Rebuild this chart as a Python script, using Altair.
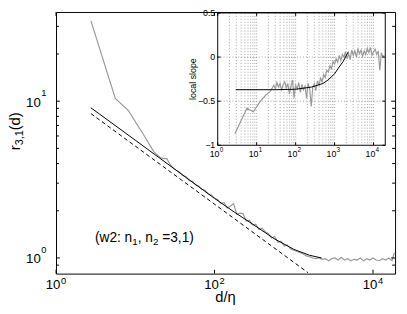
import altair as alt
import pandas as pd

F = "Liberation Sans"

# ---------------- data ----------------
d_vals = [2.76, 5.6, 8.2, 12.5, 17.2,
          20.9, 22.9, 25.1, 27.5, 30.2, 33.1, 36.3, 39.8, 43.7, 47.9, 52.5, 57.5, 63.1, 69.2, 75.9, 83.2, 91.2, 100,
          110, 120, 132, 145, 158, 174, 191, 209, 229, 251, 275, 302, 331, 363, 398, 437, 479, 525, 575, 631, 692,
          759, 832, 912, 1000,
          1096, 1202, 1318, 1445, 1585, 1738, 1905, 2089, 2291, 2512, 2754, 3020, 3311, 3631, 3981, 4365, 4786,
          5248, 5754, 6310, 6918, 7586, 8318, 9120, 10000,
          10965, 12023, 13183, 14454, 15849, 17378, 18600]
r_vals = [32.5, 10.4, 8.7, 6.2, 4.75,
          4.35, 4.30, 4.30, 3.95, 3.74, 3.62, 3.52, 3.36, 3.30, 3.12, 3.08, 2.93, 2.88, 2.74, 2.70, 2.56, 2.52, 2.40,
          2.36, 2.22, 2.26, 2.08, 2.14, 2.22, 1.90, 1.93, 1.92, 1.72, 1.74, 1.62, 1.64, 1.52, 1.55, 1.47, 1.43, 1.34,
          1.37, 1.26, 1.28, 1.19, 1.21, 1.14, 1.12,
          1.10, 1.08, 1.06, 1.03, 1.02, 1.00, 0.99, 1.00, 0.98, 0.99, 0.96, 0.99, 1.00, 0.97, 1.01, 0.97, 0.99, 0.96,
          0.98, 0.97, 1.00, 0.96, 0.99, 0.97, 1.00,
          0.97, 0.96, 0.99, 0.97, 1.00, 0.96, 1.08]
slope_vals = [-0.87, -0.58, -0.62, -0.50, -0.43,
              -0.40, -0.38, -0.35, -0.32, -0.36, -0.29, -0.34, -0.30, -0.37, -0.31, -0.28, -0.35, -0.30, -0.42, -0.33,
              -0.26, -0.46, -0.32,
              -0.36, -0.29, -0.40, -0.31, -0.37, -0.33, -0.47, -0.30, -0.36, -0.56, -0.34, -0.30, -0.38, -0.27, -0.32,
              -0.24, -0.28, -0.20, -0.23, -0.15, -0.17, -0.10, -0.13, -0.05, -0.08,
              -0.02, -0.06, 0.02, -0.04, 0.03, 0.00, 0.06, -0.02, 0.04, -0.03, 0.08, 0.02, 0.07, 0.00, 0.09, 0.04,
              0.08, 0.01, 0.07, 0.03, 0.10, 0.05, 0.11, 0.02, 0.06,
              0.09, 0.03, 0.07, -0.15, 0.05, 0.00, 0.02]

fit_d = [2.75, 10, 31.6, 100, 178, 316, 562, 1000, 1585, 2240]
fit_r = [9.08, 5.64, 3.68, 2.40, 1.96, 1.62, 1.33, 1.135, 1.04, 1.00]

pow_d = [2.76, 1510]
pow_r = [8.33, 0.806]

lsfit_d = [2.9, 30, 100, 257, 500, 680, 1000, 1230, 1660, 2240]
lsfit_s = [-0.37, -0.37, -0.365, -0.34, -0.30, -0.26, -0.19, -0.13, -0.05, 0.06]

x_major = [1, 100, 10000]
x_major_exp = ["0", "2", "4"]
y_major = [1, 10]
y_major_exp = ["0", "1"]
y_minor = [0.9, 2, 3, 4, 5, 6, 7, 8, 9, 20, 30]

in_x_major = [1, 10, 100, 1000, 10000]
in_x_exp = ["0", "1", "2", "3", "4"]
in_y_major = [-1, -0.5, 0, 0.5]
in_y_text = ["\u22121", "\u22120.5", "0", "0.5"]
in_grid_x = [2, 3, 4, 5, 6, 7, 8, 9, 10, 20, 30, 40, 50, 60, 70, 80, 90, 100, 200, 300, 400, 500, 600, 700,
             800, 900, 1000, 2000, 3000, 4000, 5000, 6000, 7000, 8000, 9000, 10000]
in_grid_y = [-0.5, 0]

# ---------------- layout ----------------
W, H = 346, 267
IX0, IX1, IY0, IY1 = 165, 336, 1, 136   # inset box in plot pixels

mx = alt.Scale(type="log", domain=[1, 19000], range=[0, W], nice=False)
my = alt.Scale(type="log", domain=[0.7943, 37.06], range=[H, 0], nice=False)
ix = alt.Scale(type="log", domain=[1, 20000], range=[IX0, IX1], nice=False)
iy = alt.Scale(type="linear", domain=[-1, 0.5], range=[IY1, IY0], nice=False, zero=False)

main_df = pd.DataFrame({"d": d_vals, "r": r_vals, "s": slope_vals})
fit_df = pd.DataFrame({"d": fit_d, "r": fit_r})
pow_df = pd.DataFrame({"d": pow_d, "r": pow_r})
lsfit_df = pd.DataFrame({"d": lsfit_d, "s": lsfit_s})


def MX(f="d"):
    return alt.X(f"{f}:Q", scale=mx, axis=None)


def MY(f="r"):
    return alt.Y(f"{f}:Q", scale=my, axis=None)


def IXe(f="d"):
    return alt.X(f"{f}:Q", scale=ix, axis=None)


def IYe(f="s"):
    return alt.Y(f"{f}:Q", scale=iy, axis=None)


def label(text, x, y, size, **kw):
    return alt.Chart(pd.DataFrame({"t": [text]})).mark_text(
        x=x, y=y, fontSize=size, font=F, color="black", **kw).encode(text="t:N")


xmaj = pd.DataFrame({"v": x_major, "e": x_major_exp})
ymaj = pd.DataFrame({"v": y_major, "e": y_major_exp})
ymin = pd.DataFrame({"v": y_minor})

main_layers = [
    alt.Chart(main_df).mark_line(color="#9a9a9a", strokeWidth=1.2).encode(x=MX(), y=MY()),
    alt.Chart(fit_df).mark_line(color="black", strokeWidth=1).encode(x=MX(), y=MY()),
    alt.Chart(pow_df).mark_line(color="black", strokeWidth=1, strokeDash=[4, 3]).encode(x=MX(), y=MY()),
    # ticks (inside, on all four sides)
    alt.Chart(ymin).mark_rule(color="black").encode(y=MY("v"), x=alt.value(0), x2=alt.value(3)),
    alt.Chart(ymin).mark_rule(color="black").encode(y=MY("v"), x=alt.value(W), x2=alt.value(W - 3)),
    alt.Chart(ymaj).mark_rule(color="black").encode(y=MY("v"), x=alt.value(0), x2=alt.value(4)),
    alt.Chart(ymaj).mark_rule(color="black").encode(y=MY("v"), x=alt.value(W), x2=alt.value(W - 4)),
    alt.Chart(xmaj).mark_rule(color="black").encode(x=MX("v"), y=alt.value(H), y2=alt.value(H - 4)),
    alt.Chart(xmaj).mark_rule(color="black").encode(x=MX("v"), y=alt.value(0), y2=alt.value(4)),
    # tick labels 10^k
    alt.Chart(xmaj).mark_text(text="10", align="right", baseline="alphabetic", fontSize=13.5, font=F, dx=4.5)
    .encode(x=MX("v"), y=alt.value(283)),
    alt.Chart(xmaj).mark_text(align="left", baseline="alphabetic", fontSize=9.5, font=F, dx=5)
    .encode(x=MX("v"), y=alt.value(277.5), text="e:N"),
    alt.Chart(ymaj).mark_text(text="10", align="right", baseline="alphabetic", fontSize=13.5, font=F, dy=5.5)
    .encode(y=MY("v"), x=alt.value(-15.5)),
    alt.Chart(ymaj).mark_text(align="left", baseline="alphabetic", fontSize=9.5, font=F, dy=-5)
    .encode(y=MY("v"), x=alt.value(-15), text="e:N"),
    # axis titles
    label("d/\u03b7", W / 2, 296, 15, align="center", baseline="alphabetic"),
    label("r", -37, 141, 15, angle=270, align="left", baseline="alphabetic"),
    label("3,1", -34, 136, 11, angle=270, align="left", baseline="alphabetic"),
    label("(d)", -37, 120.7, 15, angle=270, align="left", baseline="alphabetic"),
    # annotation
    label("(w2: n", 39.7, 234.3, 14, align="left", baseline="alphabetic"),
    label("1", 77.8, 237.5, 10, align="left", baseline="alphabetic"),
    label(", n", 83.4, 234.3, 14, align="left", baseline="alphabetic"),
    label("2", 98.9, 237.5, 10, align="left", baseline="alphabetic"),
    label("=3,1)", 108.4, 234.3, 14, align="left", baseline="alphabetic"),
]
main = alt.layer(*main_layers)

box_df = pd.DataFrame({"x0": [1], "x1": [20000], "y0": [-1], "y1": [0.5]})
gx = pd.DataFrame({"v": in_grid_x})
gy = pd.DataFrame({"v": in_grid_y})
ixm = pd.DataFrame({"v": in_x_major, "e": in_x_exp})
iym = pd.DataFrame({"v": in_y_major, "t": in_y_text})

inset_layers = [
    alt.Chart(box_df).mark_rect(fill="white", stroke=None)
    .encode(x=IXe("x0"), x2="x1:Q", y=IYe("y0"), y2="y1:Q"),
    alt.Chart(gx).mark_rule(color="#8c8c8c", strokeWidth=0.8, strokeDash=[1, 2])
    .encode(x=IXe("v"), y=alt.value(IY0), y2=alt.value(IY1)),
    alt.Chart(gy).mark_rule(color="#8c8c8c", strokeWidth=0.8, strokeDash=[1, 2])
    .encode(y=IYe("v"), x=alt.value(IX0), x2=alt.value(IX1)),
    alt.Chart(main_df).mark_line(color="#9a9a9a", strokeWidth=1.2).encode(x=IXe(), y=IYe()),
    alt.Chart(lsfit_df).mark_line(color="black", strokeWidth=1).encode(x=IXe(), y=IYe()),
    alt.Chart(ixm).mark_rule(color="black").encode(x=IXe("v"), y=alt.value(IY1), y2=alt.value(IY1 - 3)),
    alt.Chart(ixm).mark_rule(color="black").encode(x=IXe("v"), y=alt.value(IY0), y2=alt.value(IY0 + 3)),
    alt.Chart(iym).mark_rule(color="black").encode(y=IYe("v"), x=alt.value(IX0), x2=alt.value(IX0 + 3)),
    alt.Chart(iym).mark_rule(color="black").encode(y=IYe("v"), x=alt.value(IX1), x2=alt.value(IX1 - 3)),
    alt.Chart(box_df).mark_rect(fill=None, stroke="black", strokeWidth=1)
    .encode(x=IXe("x0"), x2="x1:Q", y=IYe("y0"), y2="y1:Q"),
    alt.Chart(iym).mark_text(align="right", baseline="middle", fontSize=9, font=F)
    .encode(y=IYe("v"), x=alt.value(IX0 - 2.5), text="t:N"),
    alt.Chart(ixm).mark_text(text="10", align="right", baseline="alphabetic", fontSize=9, font=F, dx=1.8)
    .encode(x=IXe("v"), y=alt.value(148)),
    alt.Chart(ixm).mark_text(align="left", baseline="alphabetic", fontSize=6.5, font=F, dx=2)
    .encode(x=IXe("v"), y=alt.value(143), text="e:N"),
    label("local slope", 142.5, 68.5, 9, angle=270, align="center", baseline="alphabetic"),
]
inset = alt.layer(*inset_layers)

chart = alt.layer(main, inset).resolve_scale(x="independent", y="independent").properties(
    width=W, height=H,
    padding={"left": 49, "top": 1, "right": 4, "bottom": 32},
    autosize=alt.AutoSizeParams(type="none"),
).configure_view(stroke="black", strokeWidth=1)

chart.save("out.html", embed_options={"renderer": "svg", "actions": False})
